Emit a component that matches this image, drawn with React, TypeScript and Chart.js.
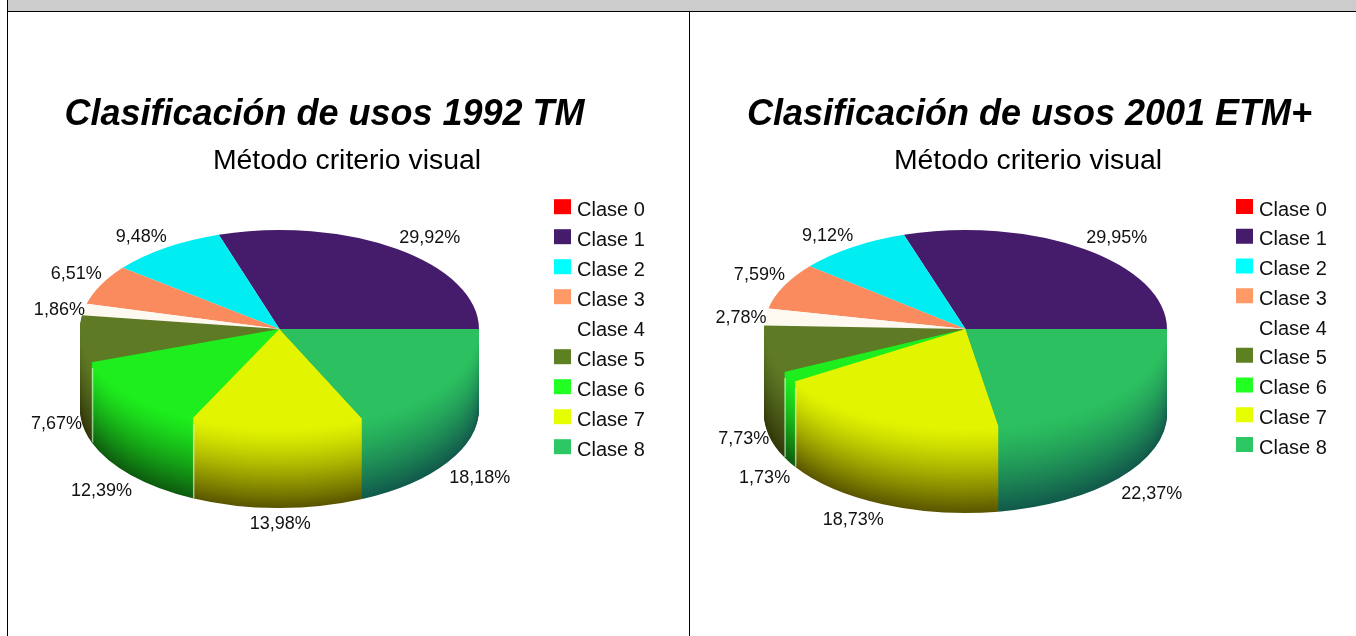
import React, { useEffect, useRef } from "react";
import { Chart, registerables } from "chart.js";

Chart.register(...registerables);

const categories = ["Clase 0", "Clase 1", "Clase 2", "Clase 3", "Clase 4", "Clase 5", "Clase 6", "Clase 7", "Clase 8"];
const values1992 = [0, 29.92, 9.48, 6.51, 1.86, 7.67, 12.39, 13.98, 18.18];
const values2001 = [0, 29.95, 9.12, 7.59, 2.78, 7.73, 1.73, 18.73, 22.37];
const legendColors = ["#ff0000", "#451c6b", "#00ffff", "#ff9966", "#ffffff", "#5d8022", "#22ff22", "#e6ff00", "#2dc864"];
const topColors = ["#ff0000", "#451c6b", "#00eef2", "#f98b5e", "#fdf8f0", "#5f7a25", "#1eee1e", "#e2f400", "#2cc060"];
const wallColors = ["#800000", "#201030", "#006060", "#804020", "#808080", "#32380a", "#0e5c10", "#5a5600", "#125a4c"];
const title1992 = "Clasificación de usos 1992 TM";
const title2001 = "Clasificación de usos 2001 ETM+";
const subtitleText = "Método criterio visual";

const FONT = "'Liberation Sans', Arial, sans-serif";
const panel1992 = { left: 8, width: 681, cx: 279.5, rx: 199.5, depth: 80, titleX: 324.5, subX: 347, legendX: 558, legendY: 200.2, rowH: 30 };
const panel2001 = { left: 690, width: 666, cx: 965.5, rx: 201.5, depth: 85, titleX: 1029.5, subX: 1028, legendX: 1240, legendY: 200, rowH: 29.75 };
const TOP = 12;
const CY = 329;
const RY = 99;
const LABEL_SIZE = 18;
const LEGEND_SIZE = 20;

function hex(c: string) {
  return [1, 3, 5].map((i) => parseInt(c.slice(i, i + 2), 16));
}
function mix(a: string, b: string, t: number) {
  const A = hex(a);
  const B = hex(b);
  return `rgb(${A.map((v, i) => Math.round(v + (B[i] - v) * t)).join(",")})`;
}

function PieChart({ panel, values, title }: any) {
  const ref = useRef<HTMLCanvasElement | null>(null);
  useEffect(() => {
    const cx = panel.cx - panel.left;
    const cy = CY - TOP;
    const k = RY / panel.rx;
    const placeBoxes = {
      id: "placeBoxes",
      afterLayout(chart: any) {
        const w = 2 * panel.rx;
        chart.chartArea = { left: cx - panel.rx, right: cx + panel.rx, top: cy - panel.rx, bottom: cy + panel.rx, width: w, height: w };
        const t = chart.titleBlock;
        t.left = panel.titleX - panel.left - 340;
        t.right = panel.titleX - panel.left + 340;
        t.top = 115.5 - TOP - t.options.font.size * 0.6;
        const s = chart.boxes.find((b: any) => b !== t && b.options && b.options.text === subtitleText);
        s.left = panel.subX - panel.left - 300;
        s.right = panel.subX - panel.left + 300;
        s.top = 161 - TOP - s.options.font.size * 0.6;
        const l = chart.legend;
        const pad = l.options.labels.padding;
        const w2 = l.width;
        l.left = panel.legendX - panel.left - pad;
        l.right = l.left + w2;
        l.top = panel.legendY - TOP - pad;
        l.bottom = chart.height;
      },
    };
    const pie3d = {
      id: "pie3d",
      beforeDatasetsDraw(chart: any) {
        const ctx = chart.ctx;
        const arcs = chart.getDatasetMeta(0).data;
        const drawArc = (arc: any, color: string, d: number) => {
          const saved = arc.options;
          arc.options = { ...saved, backgroundColor: color };
          ctx.save();
          ctx.translate(cx, cy + d);
          ctx.scale(1, -k);
          ctx.translate(-cx, -cy);
          arc.draw(ctx);
          ctx.restore();
          arc.options = saved;
        };
        for (let d = panel.depth; d >= 1; d--) {
          const t = Math.pow(d / panel.depth, 1.3);
          arcs.forEach((arc: any, i: number) => {
            if (arc.endAngle > Math.PI) drawArc(arc, mix(topColors[i], wallColors[i], t), d);
          });
        }
        arcs.forEach((arc: any, i: number) => drawArc(arc, topColors[i], 0));
        // pale seam where two walls meet on the left-hand side of the pie
        ctx.save();
        ctx.strokeStyle = "rgba(235,255,225,0.6)";
        ctx.lineWidth = 1.5;
        arcs.forEach((arc: any) => {
          const a = arc.endAngle;
          if (a > Math.PI * 1.05 && a < Math.PI * 1.5 && arc.circumference > 0) {
            const x = cx + panel.rx * Math.cos(a) + 1;
            const y = cy - RY * Math.sin(a) + 2;
            ctx.beginPath();
            ctx.moveTo(x, y + 4);
            ctx.lineTo(x, y + panel.depth - 2);
            ctx.stroke();
          }
        });
        ctx.restore();
        return false;
      },
      afterDraw(chart: any) {
        const ctx = chart.ctx;
        const arcs = chart.getDatasetMeta(0).data;
        ctx.save();
        ctx.font = `${LABEL_SIZE}px ${FONT}`;
        ctx.fillStyle = "#111";
        ctx.textBaseline = "middle";
        arcs.forEach((arc: any, i: number) => {
          if (!values[i]) return;
          const mid = (arc.startAngle + arc.endAngle) / 2;
          const c = Math.cos(mid);
          const sn = Math.sin(mid);
          const px = cx + panel.rx * c;
          let py = cy - RY * sn;
          if (sn < 0) py += panel.depth;
          const dy = sn > 0.3 ? -11 : sn < -0.3 ? 16 : sn < 0 ? 5 : 1;
          ctx.textAlign = Math.abs(c) < 0.1 ? "center" : c > 0 ? "left" : "right";
          const dx = Math.abs(c) < 0.1 ? 3 : c > 0 ? 2 : 1;
          ctx.fillText(values[i].toFixed(2).replace(".", ",") + "%", px + dx, py + dy);
        });
        // legend markers sit a little above the text's centre line
        chart.legend.legendItems.forEach((item: any, i: number) => {
          ctx.fillStyle = item.marker;
          ctx.fillRect(panel.legendX - 4 - panel.left, panel.legendY - TOP - 1 + i * panel.rowH, 17, 15);
        });
        ctx.restore();
      },
    };
    const chart = new Chart(ref.current as any, {
      type: "pie",
      data: {
        labels: categories,
        datasets: [{ data: values, backgroundColor: legendColors, borderWidth: 0 }],
      },
      options: {
        animation: false,
        responsive: false,
        devicePixelRatio: 1,
        rotation: 90,
        plugins: {
          title: { display: true, text: title, color: "#000", padding: 0, font: { family: FONT, size: 36, weight: "bold", style: "italic" } },
          subtitle: { display: true, text: subtitleText, color: "#000", padding: 0, font: { family: FONT, size: 28.4, weight: "normal" } },
          legend: {
            display: true,
            position: "right",
            align: "start",
            labels: {
              color: "#111",
              font: { family: FONT, size: LEGEND_SIZE },
              boxWidth: 9,
              boxHeight: 7,
              padding: panel.rowH - LEGEND_SIZE,
              generateLabels(c: any) {
                return (Chart as any).overrides.pie.plugins.legend.labels.generateLabels(c).map((it: any) => ({
                  ...it,
                  marker: it.fillStyle,
                  fillStyle: "rgba(0,0,0,0)",
                  lineWidth: 0,
                }));
              },
            },
          },
          tooltip: { enabled: false },
        },
      } as any,
      plugins: [placeBoxes, pie3d],
    });
    return () => chart.destroy();
  }, []);
  return (
    <canvas
      ref={ref}
      width={panel.width}
      height={636 - TOP}
      style={{ position: "absolute", left: panel.left, top: TOP, display: "block" }}
    />
  );
}

export default function App() {
  useEffect(() => {
    document.body.style.margin = "0";
    document.body.style.overflow = "hidden";
  }, []);
  return (
    <div style={{ position: "absolute", left: 0, top: 0, width: 1356, height: 636, overflow: "hidden", background: "#fff" }}>
      <div style={{ position: "absolute", left: 8, top: 0, width: 1348, height: 11, background: "#cccccc" }} />
      <div style={{ position: "absolute", left: 7, top: 11, width: 1349, height: 1, background: "#000" }} />
      <div style={{ position: "absolute", left: 7, top: 0, width: 1, height: 636, background: "#000" }} />
      <div style={{ position: "absolute", left: 689, top: 11, width: 1, height: 625, background: "#000" }} />
      <PieChart panel={panel1992} values={values1992} title={title1992} />
      <PieChart panel={panel2001} values={values2001} title={title2001} />
    </div>
  );
}
